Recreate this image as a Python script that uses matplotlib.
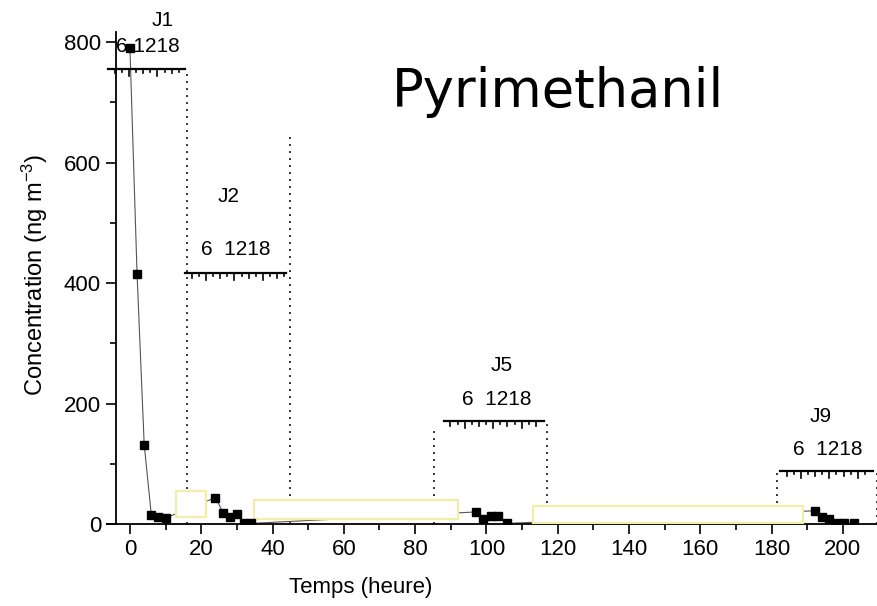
import numpy as np
import matplotlib.pyplot as plt
from matplotlib import font_manager
from matplotlib.patches import Rectangle

# sampling times (h) and measured concentrations (ng m-3)
hours = [0, 2, 4, 6, 8, 10, 24, 26.2, 28, 30, 32, 34,
         97, 99, 101.2, 103.3, 105.7, 192.2, 194.2, 196, 198.4, 200.4, 203]
conc = [790, 415, 132, 15, 11, 10, 44, 18, 11, 16, 1, 1,
        20, 9, 13, 13, 1, 22, 11, 8, 1, 1, 1]

day_names = ["J1", "J2", "J5", "J9"]
hour_labels = ["6 1218", "6  1218", "6  1218", "6  1218"]

names = {f.name for f in font_manager.fontManager.ttflist}
narrow = "Liberation Sans Narrow" if "Liberation Sans Narrow" in names else "Liberation Sans"
plt.rcParams["font.family"] = ["Liberation Sans", "DejaVu Sans"]
plt.rcParams["mathtext.fontset"] = "custom"
plt.rcParams["mathtext.rm"] = "Liberation Sans"
plt.rcParams["mathtext.default"] = "regular"

fig = plt.figure(figsize=(8.78, 6.06), dpi=100)
ax = fig.add_axes([0.1216, 0.1353, 0.879, 0.812])

ax.plot(hours, conc, color="#555555", lw=0.8, zorder=2)
ax.plot(hours, conc, ls="none", marker="s", ms=6.3, color="black", zorder=4)

# empty call-out boxes left over on the figure
boxes = [(12.8, 12, 8.4, 43), (34.9, 7.8, 57.2, 32), (113.1, 2.2, 75.8, 27.7)]
for x0, y0, w, h in boxes:
    ax.add_patch(Rectangle((x0, y0), w, h, facecolor="white",
                           edgecolor="#f3eea6", lw=1.6, zorder=3))

# dotted day separators
sep_x = [16, 44.9, 85.3, 117, 181.5, 209.5]
sep_top = [753, 649, 159, 168, 85, 90]
for x, top in zip(sep_x, sep_top):
    ax.plot([x, x], [0, top], ls=(0, (1, 2.6)), color="#333333", lw=1.4,
            zorder=1, clip_on=False)

# small day axes (0-24 h)
day_start = [-6.2, 15.4, 88.0, 182.3]
day_end = [15.4, 43.8, 116.2, 208.4]
day_level = [756, 417, 171, 88]
name_pos = [(9.3, 836), (27.8, 543), (104.2, 264), (193.8, 178)]
lab_pos = [(5.0, 792), (29.7, 455), (102.8, 206), (195.8, 124)]
for i in range(4):
    x0, x1, lvl = day_start[i], day_end[i], day_level[i]
    ax.plot([x0, x1], [lvl, lvl], color="black", lw=1.6, clip_on=False, zorder=5)
    tx = np.arange(x0 + 1.9, x1 - 0.3, 2.0)
    for k, t in enumerate(tx):
        ln = {2: 12, 0: 8}.get(k % 4, 5)
        ax.plot([t, t], [lvl, lvl - ln], color="black", lw=1.2,
                clip_on=False, zorder=5)
    ax.text(*name_pos[i], day_names[i], fontsize=15, ha="center", va="center")
    ax.text(*lab_pos[i], hour_labels[i], fontsize=15, ha="center", va="center")

ax.set_xlim(-6.5, 210)
ax.set_ylim(0, 817)
ax.spines["left"].set_position(("data", -3.8))
ax.spines["top"].set_visible(False)
ax.spines["right"].set_visible(False)
for s in ["left", "bottom"]:
    ax.spines[s].set_linewidth(1.3)

ax.set_xticks(np.arange(0, 201, 20))
ax.set_xticks(np.arange(0, 201, 10), minor=True)
ax.set_yticks(np.arange(0, 801, 200))
ax.set_yticks(np.arange(0, 801, 100), minor=True)
ax.tick_params(which="major", length=7, width=1.2, direction="out")
ax.tick_params(which="minor", length=4.5, width=1.2, direction="out")
ax.tick_params(axis="x", pad=4)
ax.tick_params(axis="y", pad=4)
for lab in ax.get_xticklabels():
    lab.set_fontfamily(narrow)
    lab.set_fontsize(16)
for lab in ax.get_yticklabels():
    lab.set_fontsize(16)

fig.text(361 / 878, 1 - 587 / 606, "Temps (heure)", family=narrow, fontsize=16,
         ha="center", va="center")
fig.text(35 / 878, 1 - 275 / 606, "Concentration (ng m$^{-3}$)", fontsize=17,
         rotation=90, ha="center", va="center")
fig.text(558 / 878, 1 - 107 / 606, "Pyrimethanil", family="DejaVu Sans",
         fontsize=38, ha="center", va="baseline")

fig.savefig("out.png", dpi=100)
